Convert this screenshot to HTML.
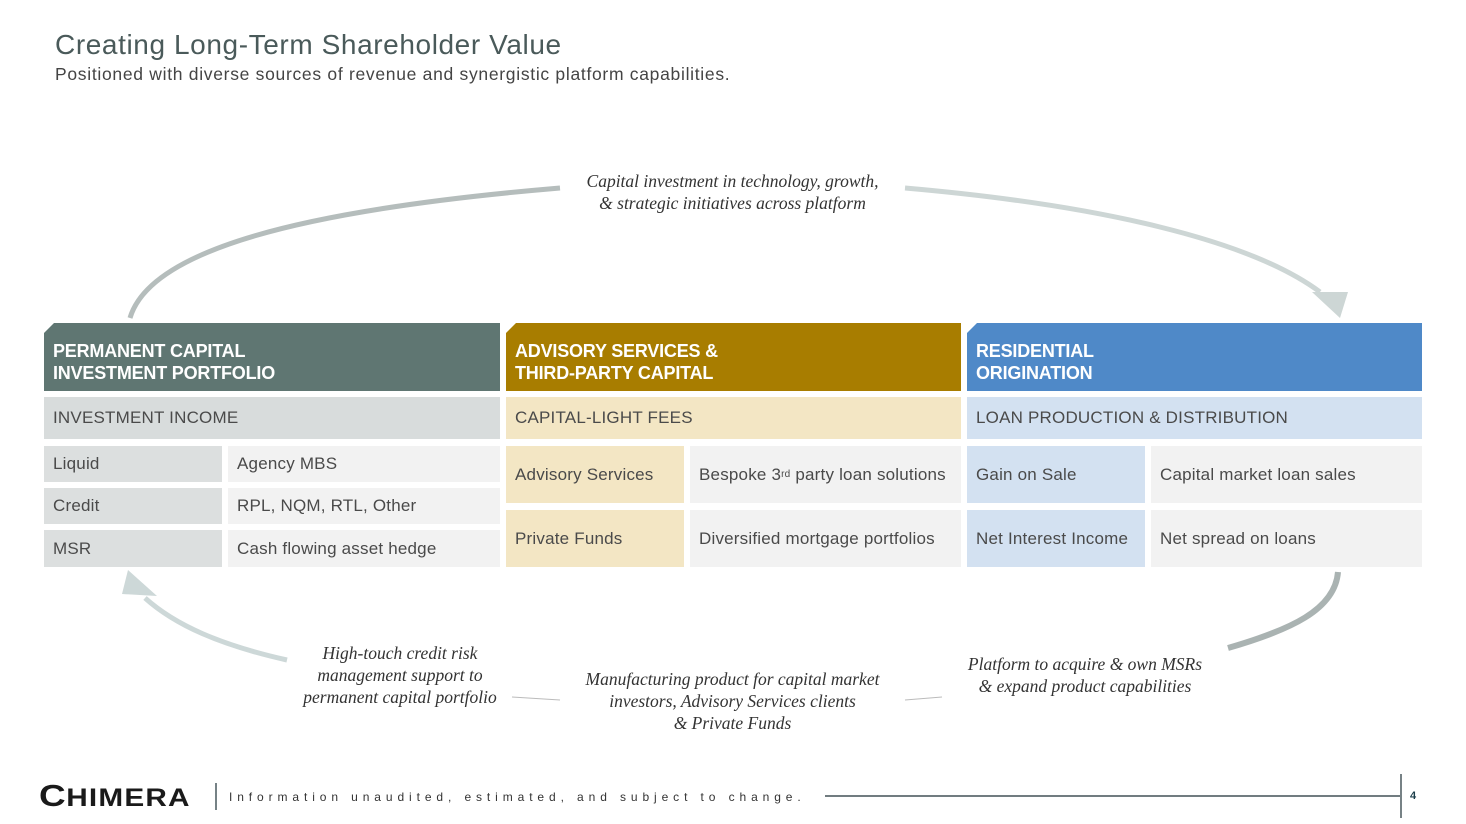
<!DOCTYPE html>
<html><head><meta charset="utf-8"><style>
body{margin:0;width:1466px;height:824px;background:#fff;position:relative;overflow:hidden;font-family:"Liberation Sans",sans-serif;}
.a{position:absolute;box-sizing:border-box;}
.t{font-size:17px;color:#4a4a4a;display:flex;align-items:center;padding-left:9px;letter-spacing:0.2px;}
.h{color:#fff;font-size:18px;line-height:22px;padding:17px 9px;clip-path:polygon(10px 0,100% 0,100% 100%,0 100%,0 10px);font-weight:bold;letter-spacing:-0.2px;}
.it{font-family:"Liberation Serif",serif;font-style:italic;font-size:17.5px;color:#333;text-align:center;line-height:22px;}
</style></head><body>
<div class="a" style="left:55px;top:29px;font-size:28px;color:#4a5a5a;letter-spacing:0.6px;">Creating Long-Term Shareholder Value</div>
<div class="a" style="left:55px;top:64px;font-size:17.5px;color:#444;letter-spacing:0.7px;">Positioned with diverse sources of revenue and synergistic platform capabilities.</div>

<svg class="a" style="left:0;top:0" width="1466" height="824">
<path d="M130 318 C150 250 300 210 560 188" stroke="#b5bdbc" stroke-width="5" fill="none"/>
<path d="M905 188 C1100 205 1250 240 1320 292" stroke="#cdd6d5" stroke-width="5" fill="none"/>
<polygon points="1312,292 1348,292 1340,318" fill="#cdd6d5"/>
<path d="M1338 572 C1335 610 1290 630 1228 648" stroke="#aab3b2" stroke-width="6" fill="none"/>
<path d="M287 660 C220 645 175 625 145 598" stroke="#cdd8d8" stroke-width="5" fill="none"/>
<polygon points="128,570 157,596 122,594" fill="#cdd8d8"/>
<line x1="512" y1="697" x2="560" y2="700" stroke="#bbb" stroke-width="1"/>
<line x1="905" y1="700" x2="942" y2="697" stroke="#bbb" stroke-width="1"/>
<line x1="825" y1="796" x2="1400" y2="796" stroke="#1c2e35" stroke-width="1.2"/>
<line x1="1401" y1="774" x2="1401" y2="818" stroke="#1c2e35" stroke-width="1.2"/>
<line x1="216" y1="783" x2="216" y2="810" stroke="#1c2e35" stroke-width="1.2"/>
</svg>

<div class="a it" style="left:560px;top:170px;width:345px;">Capital investment in technology, growth,<br>&amp; strategic initiatives across platform</div>
<div class="a it" style="left:290px;top:642px;width:220px;">High-touch credit risk<br>management support to<br>permanent capital portfolio</div>
<div class="a it" style="left:560px;top:668px;width:345px;">Manufacturing product for capital market<br>investors, Advisory Services clients<br>&amp; Private Funds</div>
<div class="a it" style="left:940px;top:653px;width:290px;">Platform to acquire &amp; own MSRs<br>&amp; expand product capabilities</div>

<div class="a h" style="left:44px;top:323px;width:456px;height:68px;background:#5f7672;">PERMANENT CAPITAL<br>INVESTMENT PORTFOLIO</div>
<div class="a h" style="left:506px;top:323px;width:455px;height:68px;background:#a87d00;">ADVISORY SERVICES &amp;<br>THIRD-PARTY CAPITAL</div>
<div class="a h" style="left:967px;top:323px;width:455px;height:68px;background:#4f89c8;">RESIDENTIAL<br>ORIGINATION</div>

<div class="a t" style="left:44px;top:397px;width:456px;height:42px;background:#d8dcdc;">INVESTMENT INCOME</div>
<div class="a t" style="left:506px;top:397px;width:455px;height:42px;background:#f3e6c4;">CAPITAL-LIGHT FEES</div>
<div class="a t" style="left:967px;top:397px;width:455px;height:42px;background:#d3e1f1;">LOAN PRODUCTION &amp; DISTRIBUTION</div>

<div class="a t" style="left:44px;top:446px;width:178px;height:36px;background:#dcdfdf;">Liquid</div>
<div class="a t" style="left:228px;top:446px;width:272px;height:36px;background:#f2f2f2;">Agency MBS</div>
<div class="a t" style="left:44px;top:488px;width:178px;height:36px;background:#dcdfdf;">Credit</div>
<div class="a t" style="left:228px;top:488px;width:272px;height:36px;background:#f2f2f2;">RPL, NQM, RTL, Other</div>
<div class="a t" style="left:44px;top:530px;width:178px;height:37px;background:#dcdfdf;">MSR</div>
<div class="a t" style="left:228px;top:530px;width:272px;height:37px;background:#f2f2f2;">Cash flowing asset hedge</div>

<div class="a t" style="left:506px;top:446px;width:178px;height:57px;background:#f3e6c4;">Advisory Services</div>
<div class="a t" style="left:690px;top:446px;width:271px;height:57px;background:#f2f2f2;">Bespoke 3<sup style="font-size:10px">rd</sup>&nbsp;party loan solutions</div>
<div class="a t" style="left:506px;top:510px;width:178px;height:57px;background:#f3e6c4;">Private Funds</div>
<div class="a t" style="left:690px;top:510px;width:271px;height:57px;background:#f2f2f2;">Diversified mortgage portfolios</div>

<div class="a t" style="left:967px;top:446px;width:178px;height:57px;background:#d3e1f1;">Gain on Sale</div>
<div class="a t" style="left:1151px;top:446px;width:271px;height:57px;background:#f2f2f2;">Capital market loan sales</div>
<div class="a t" style="left:967px;top:510px;width:178px;height:57px;background:#d3e1f1;">Net Interest Income</div>
<div class="a t" style="left:1151px;top:510px;width:271px;height:57px;background:#f2f2f2;">Net spread on loans</div>

<div class="a" style="left:39px;top:778px;font-size:31px;font-weight:bold;color:#1a1a1a;letter-spacing:0.5px;line-height:36px;transform:scaleX(1.19);transform-origin:0 0;">C<span style="font-size:25px;letter-spacing:1px;">HIMERA</span></div>
<div class="a" style="left:229px;top:790px;font-size:12px;color:#333;letter-spacing:4.9px;">Information unaudited, estimated, and subject to change.</div>
<div class="a" style="left:1410px;top:790px;font-size:11px;font-weight:bold;color:#1c3e4a;">4</div>
</body></html>
